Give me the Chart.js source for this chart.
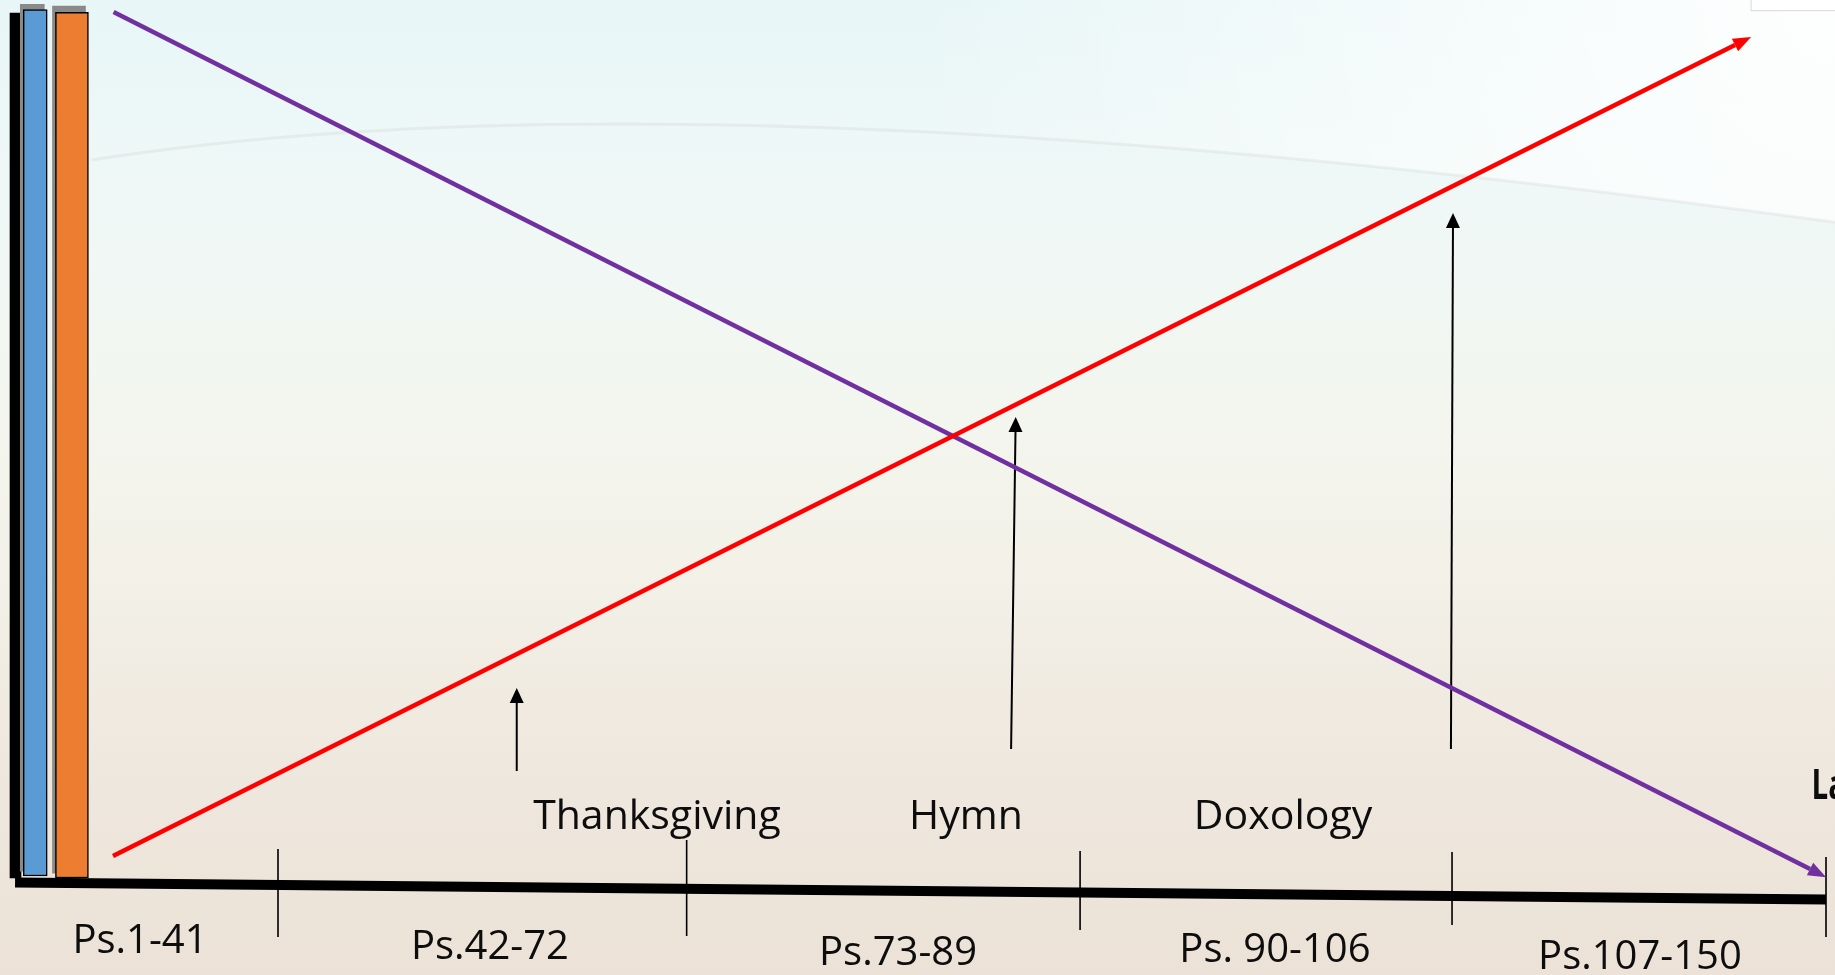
<!DOCTYPE html>
<html>
<head>
<meta charset="utf-8">
<title>Psalms</title>
<script src="https://cdn.jsdelivr.net/npm/chart.js@4.4.1/dist/chart.umd.min.js"></script>
<style>
  html, body { margin: 0; padding: 0; overflow: hidden; background: #eee8df; }
  .slide { position: relative; width: 1835px; height: 975px; }
</style>
</head>
<body>
<div class="slide">
  <canvas id="psalmsChart"></canvas>
</div>
<script>
// the slide is one frame: x = 0..100 across, y = 0..100 bottom to top

//------------ bars at the left edge ------------
const barX = [1.92, 3.92];
const barTop = [99.03, 98.74];
const barBase = [10.15, 9.95];
const barColors = ['#5b9bd5', '#ed7d31'];
const shadowX = [1.76, 3.76];
const shadowTop = [99.56, 99.38];
const frameX = 0.845;
const frameY = [9.95, 98.67];

//------------ timeline (sloped base line) ------------
const axisX = [0.82, 99.51];
const axisY = [9.49, 7.74];

// dividers between the five books
const dividerX = [15.15, 37.42, 58.86, 79.13, 99.51];
const dividerTop = [12.92, 13.85, 12.72, 12.62, 12.1];
const dividerBottom = [3.9, 4.0, 4.62, 5.13, 3.9];

//------------ the two trend lines ------------
const lamentX = [6.19, 98.64];
const lamentY = [98.77, 10.87];
const praiseX = [6.16, 94.55];
const praiseY = [12.2, 95.38];

//------------ small arrows (bottom -> top) ------------
const riseX = [[28.16, 28.16], [55.10, 55.34], [79.07, 79.18]];
const riseY = [[20.92, 27.90], [23.18, 55.69], [23.18, 76.62]];

//------------ labels ------------
const bookLabels = ['Ps.1-41', 'Ps.42-72', 'Ps.73-89', 'Ps. 90-106', 'Ps.107-150'];
const bookLabelX = [7.63, 26.70, 48.94, 69.48, 89.37];
const bookLabelY = [2.26, 1.64, 1.03, 1.33, 0.62];
const themeLabels = ['Thanksgiving', 'Hymn', 'Doxology'];
const themeLabelX = [35.80, 52.64, 69.92];
const themeLabelY = 14.97;
const sideLabel = 'La';
const sideLabelX = 98.72;
const sideLabelY = 18.05;


window.addEventListener('load', () => { main1() });

function main1() {

  //---------------- slide background ----------------
  const backdrop = {
    id: 'backdrop',
    beforeDraw(chart) {
      const c = chart.ctx;
      const w = chart.width, h = chart.height;
      c.save();
      const g = c.createLinearGradient(0, 0, 0, h);
      g.addColorStop(0, '#e8f6f7');
      g.addColorStop(0.2, '#eff8f7');
      g.addColorStop(0.42, '#f3f6ef');
      g.addColorStop(0.58, '#f3f1e8');
      g.addColorStop(0.78, '#efe8de');
      g.addColorStop(1, '#ece2d7');
      c.fillStyle = g;
      c.fillRect(0, 0, w, h);

      // whiter glow in the top right, above the faint arc
      c.beginPath();
      c.moveTo(w * 0.05, 0);
      c.lineTo(w * 0.05, h * 0.164);
      c.quadraticCurveTo(w * 0.38, h * 0.066, w, h * 0.228);
      c.lineTo(w, 0);
      c.closePath();
      c.save();
      c.clip();
      const r = c.createRadialGradient(w, 0, 0, w, 0, w * 0.5);
      r.addColorStop(0, 'rgba(255,255,255,0.95)');
      r.addColorStop(1, 'rgba(255,255,255,0)');
      c.fillStyle = r;
      c.fillRect(0, 0, w, h);
      c.restore();

      c.beginPath();
      c.moveTo(w * 0.05, h * 0.164);
      c.quadraticCurveTo(w * 0.38, h * 0.066, w, h * 0.228);
      c.strokeStyle = 'rgba(190,190,185,0.18)';
      c.lineWidth = 3;
      c.stroke();

      // small box cut off at the top right corner
      c.fillStyle = '#ffffff';
      c.fillRect(w * 0.954, -2, w * 0.05, h * 0.013);
      c.strokeStyle = '#d9d9d9';
      c.lineWidth = 1;
      c.strokeRect(w * 0.954 + 0.5, -2, w * 0.05, h * 0.013);
      c.restore();
    }
  };

  //---------------- arrow heads at the end of lines ----------------
  const arrowHeads = {
    id: 'arrowHeads',
    afterDatasetsDraw(chart) {
      const c = chart.ctx;
      chart.data.datasets.forEach((ds, i) => {
        if (!ds.arrowHead) return;
        const pts = chart.getDatasetMeta(i).data;
        const a = pts[pts.length - 2], b = pts[pts.length - 1];
        const ang = Math.atan2(b.y - a.y, b.x - a.x);
        const len = ds.arrowHead.length, half = ds.arrowHead.width / 2;
        c.save();
        c.translate(b.x, b.y);
        c.rotate(ang);
        c.beginPath();
        c.moveTo(len, 0);
        c.lineTo(0, -half);
        c.lineTo(0, half);
        c.closePath();
        c.fillStyle = ds.borderColor;
        c.fill();
        c.restore();
      });
    }
  };

  //---------------- text on the slide ----------------
  const slideText = {
    id: 'slideText',
    afterDraw(chart) {
      const c = chart.ctx;
      const xs = chart.scales.x, ys = chart.scales.y;
      c.save();
      c.fillStyle = '#0d0d0d';
      c.textBaseline = 'alphabetic';
      c.textAlign = 'center';
      c.font = '40px "Open Sans"';
      bookLabels.forEach((t, i) => {
        c.fillText(t, xs.getPixelForValue(bookLabelX[i]), ys.getPixelForValue(bookLabelY[i]));
      });
      c.font = '41px "Open Sans"';
      themeLabels.forEach((t, i) => {
        c.fillText(t, xs.getPixelForValue(themeLabelX[i]), ys.getPixelForValue(themeLabelY));
      });
      // bold label cut by the right edge (narrow like the original face)
      c.textAlign = 'left';
      c.font = 'bold 41px "Open Sans"';
      c.translate(xs.getPixelForValue(sideLabelX), ys.getPixelForValue(sideLabelY));
      c.scale(0.72, 1);
      c.fillText(sideLabel, 0, 0);
      c.restore();
    }
  };

  function segment(xArr, yArr, color, width, order, arrow) {
    return {
      type: 'line',
      data: xArr.map((x, i) => ({ x: x, y: yArr[i] })),
      borderColor: color,
      borderWidth: width,
      pointRadius: 0,
      tension: 0,
      fill: false,
      order: order,
      arrowHead: arrow
    };
  }

  const datasets = [];

  // lines first in the list = drawn on top
  datasets.push(segment(praiseX, praiseY, '#ff0000', 4.5, 1, { length: 18, width: 14 }));
  datasets.push(segment(lamentX, lamentY, '#7030a0', 4.5, 2, { length: 18, width: 14 }));
  riseX.forEach((xs, i) => {
    datasets.push(segment(xs, riseY[i], '#000000', 2, 3, { length: 15, width: 14 }));
  });
  dividerX.forEach((x, i) => {
    datasets.push(segment([x, x], [dividerTop[i], dividerBottom[i]], '#000000', 1.6, 4, null));
  });
  datasets.push(segment(axisX, axisY, '#000000', 10, 5, null));

  // bars
  barX.forEach((x, i) => {
    datasets.push({
      type: 'bar',
      data: [{ x: x, y: [barBase[i], barTop[i]] }],
      backgroundColor: barColors[i],
      borderColor: '#000000',
      borderWidth: 1.5,
      borderSkipped: false,
      barThickness: i === 0 ? 24 : 33,
      grouped: false,
      order: 6
    });
    datasets.push({
      type: 'bar',
      data: [{ x: shadowX[i], y: [barBase[i] + 0.5, shadowTop[i]] }],
      backgroundColor: '#8a8a8a',
      borderWidth: 0,
      barThickness: i === 0 ? 24 : 33,
      grouped: false,
      order: 7
    });
  });
  datasets.push({
    type: 'bar',
    data: [{ x: frameX, y: frameY }],
    backgroundColor: '#000000',
    borderWidth: 0,
    barThickness: 11,
    grouped: false,
    order: 8
  });

  const ctx = document.getElementById('psalmsChart').getContext('2d');
  new Chart(ctx, {
    type: 'bar',
    data: { datasets: datasets },
    options: {
      responsive: true,
      maintainAspectRatio: false,
      animation: false,
      layout: { padding: 0 },
      plugins: {
        legend: { display: false },
        tooltip: { enabled: false }
      },
      scales: {
        x: { type: 'linear', min: 0, max: 100, offset: false, display: false },
        y: { type: 'linear', min: 0, max: 100, display: false }
      }
    },
    plugins: [backdrop, arrowHeads, slideText]
  });
}
</script>
</body>
</html>
